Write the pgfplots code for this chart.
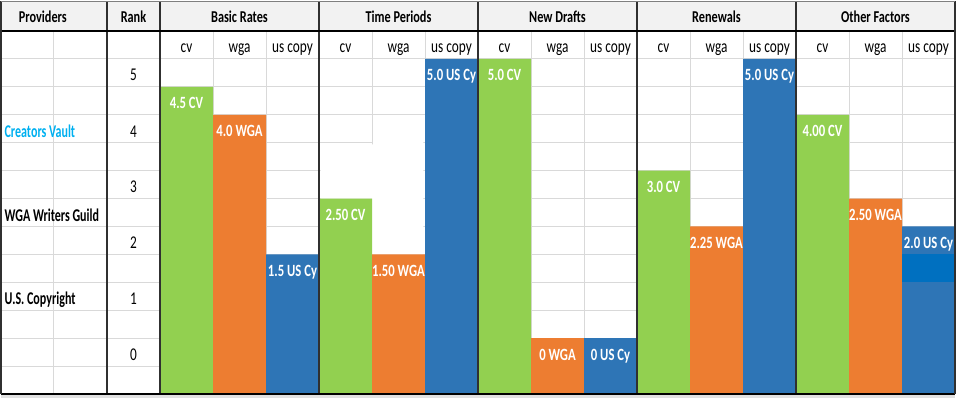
\documentclass[border=0pt]{standalone}
\usepackage{pgfplots}
\usepackage{pgfplotstable}
\pgfplotsset{compat=1.18}
\usepackage{fontspec}
\setmainfont{Carlito}[FakeStretch=0.74]
\newfontfamily\provfont{Carlito}[FakeStretch=0.67]
\definecolor{cvgreen}{HTML}{92D050}
\definecolor{wgaorange}{HTML}{ED7D31}
\definecolor{usblue}{HTML}{2E75B6}
\definecolor{brightblue}{HTML}{0070C0}
\definecolor{cvblue}{HTML}{00B0F0}
\definecolor{headgrey}{HTML}{F2F2F2}
\definecolor{gridgrey}{HTML}{D9D9D9}
\definecolor{bordgrey}{HTML}{303030}

\pgfplotstableread[col sep=comma]{
x,v,label
3.5,4.5,4.5 CV
6.5,2.5,2.50 CV
9.5,5.0,5.0 CV
12.5,3.0,3.0 CV
15.5,4.0,4.00 CV
}\cvdata
\pgfplotstableread[col sep=comma]{
x,v,label
4.5,4.0,4.0 WGA
7.5,1.5,1.50 WGA
10.5,0,0 WGA
13.5,2.0,2.25 WGA
16.5,2.5,2.50 WGA
}\wgadata
\pgfplotstableread[col sep=comma]{
x,v,label
5.5,1.5,1.5 US Cy
8.5,5.0,5.0 US Cy
11.5,0,0 US Cy
14.5,5.0,5.0 US Cy
17.5,2.0,2.0 US Cy
}\usdata

\newcommand\hdfont{\fontsize{8.3}{10}\selectfont\bfseries}
\newcommand\bdfont{\fontsize{9}{10}\selectfont}
\tikzset{
  hd/.style={anchor=base, inner sep=0pt, font=\hdfont},
  bd/.style={anchor=base, inner sep=0pt, font=\bdfont},
  prov/.style={anchor=base west, inner sep=0pt, font=\provfont\fontsize{9}{10}\selectfont\bfseries},
}
\pgfplotsset{
  barlab/.style={
    nodes near coords, point meta=explicit symbolic,
    every node near coord/.append style={anchor=base, yshift=-11pt, inner sep=0pt,
      text=white, font=\fontsize{8.6}{10}\selectfont\bfseries},
  },
}

\begin{document}
\begin{tikzpicture}
\begin{axis}[
  scale only axis, width=478pt, height=199pt,
  xmin=0, xmax=18, ymin=-0.07, ymax=7.04,
  enlargelimits=false, clip=false,
  axis line style={draw=none},
  xtick=\empty, ytick=\empty,
]
% header background and bottom strip
\addplot[fill=headgrey, draw=none] coordinates {(0,6.5) (18,6.5) (18,7.04) (0,7.04)} -- cycle;
\addplot[fill=gridgrey!80, draw=none] coordinates {(0,-0.07) (18,-0.07) (18,0) (0,0)} -- cycle;

% cell grid
\pgfplotsinvokeforeach{0.5,1,1.5,2,2.5,3,3.5,4,4.5,5,5.5,6}{
  \addplot[gridgrey, line width=0.5pt] coordinates {(0,#1) (18,#1)};
}
\pgfplotsinvokeforeach{1,4,5,7,8,10,11,13,14,16,17}{
  \addplot[gridgrey, line width=0.5pt] coordinates {(#1,0) (#1,6.5)};
}
% blank area in Time Periods
\addplot[fill=white, draw=none] coordinates {(6.03,3.5) (6.03,4.47) (7.02,4.47) (7.02,4.97) (7.97,4.97) (7.97,2.5) (7,2.5) (7,3.5)} -- cycle;

% bars
\addplot[ybar, bar width=1, bar shift=0pt, fill=cvgreen, draw=none, barlab]
  table[x=x, y expr=\thisrow{v}+1, meta=label] {\cvdata};
\addplot[ybar, bar width=1, bar shift=0pt, fill=wgaorange, draw=none, barlab]
  table[x=x, y expr=\thisrow{v}+1, meta=label] {\wgadata};
\addplot[ybar, bar width=1, bar shift=0pt, fill=usblue, draw=none, barlab]
  table[x=x, y expr=\thisrow{v}+1, meta=label] {\usdata};
\addplot[fill=brightblue, draw=none] coordinates {(17,2) (18,2) (18,2.5) (17,2.5)} -- cycle;

% borders
\pgfplotsinvokeforeach{2,3,6,9,12,15}{
  \addplot[bordgrey, line width=0.8pt] coordinates {(#1,0) (#1,7.04)};
}
\addplot[black, line width=1pt] coordinates {(0,6.5) (18,6.5)};
\addplot[black, line width=1pt] coordinates {(0,0) (18,0)};
\addplot[bordgrey, line width=0.8pt] coordinates {(0,0) (0,7.04)};
\addplot[bordgrey, line width=0.6pt] coordinates {(18,0) (18,7.04)};
\addplot[gray, line width=0.5pt] coordinates {(0,7.03) (18,7.03)};

% header texts
\node[hd] at (axis cs:0.79,6.66) {Providers};
\node[hd] at (axis cs:2.5,6.66) {Rank};
\node[hd] at (axis cs:4.5,6.66) {Basic Rates};
\node[hd] at (axis cs:7.5,6.66) {Time Periods};
\node[hd] at (axis cs:10.5,6.66) {New Drafts};
\node[hd] at (axis cs:13.5,6.66) {Renewals};
\node[hd] at (axis cs:16.5,6.66) {Other Factors};

% sub-header texts
\pgfplotsinvokeforeach{3.5,6.5,9.5,12.5,15.5}{\node[bd] at (axis cs:#1,6.11) {cv};}
\pgfplotsinvokeforeach{4.5,7.5,10.5,13.5,16.5}{\node[bd] at (axis cs:#1,6.11) {wga};}
\pgfplotsinvokeforeach{5.5,8.5,11.5,14.5,17.5}{\node[bd] at (axis cs:#1,6.11) {us copy};}

% rank column
\node[bd] at (axis cs:2.5,5.62) {5};
\node[bd] at (axis cs:2.5,4.6) {4};
\node[bd] at (axis cs:2.5,3.6) {3};
\node[bd] at (axis cs:2.5,2.6) {2};
\node[bd] at (axis cs:2.5,1.6) {1};
\node[bd] at (axis cs:2.5,0.6) {0};

% providers
\node[prov, text=cvblue] at (axis cs:0.06,4.59) {Creators Vault};
\node[prov] at (axis cs:0.06,3.09) {WGA Writers Guild};
\node[prov] at (axis cs:0.06,1.61) {U.S. Copyright};
\end{axis}
\end{tikzpicture}
\end{document}
